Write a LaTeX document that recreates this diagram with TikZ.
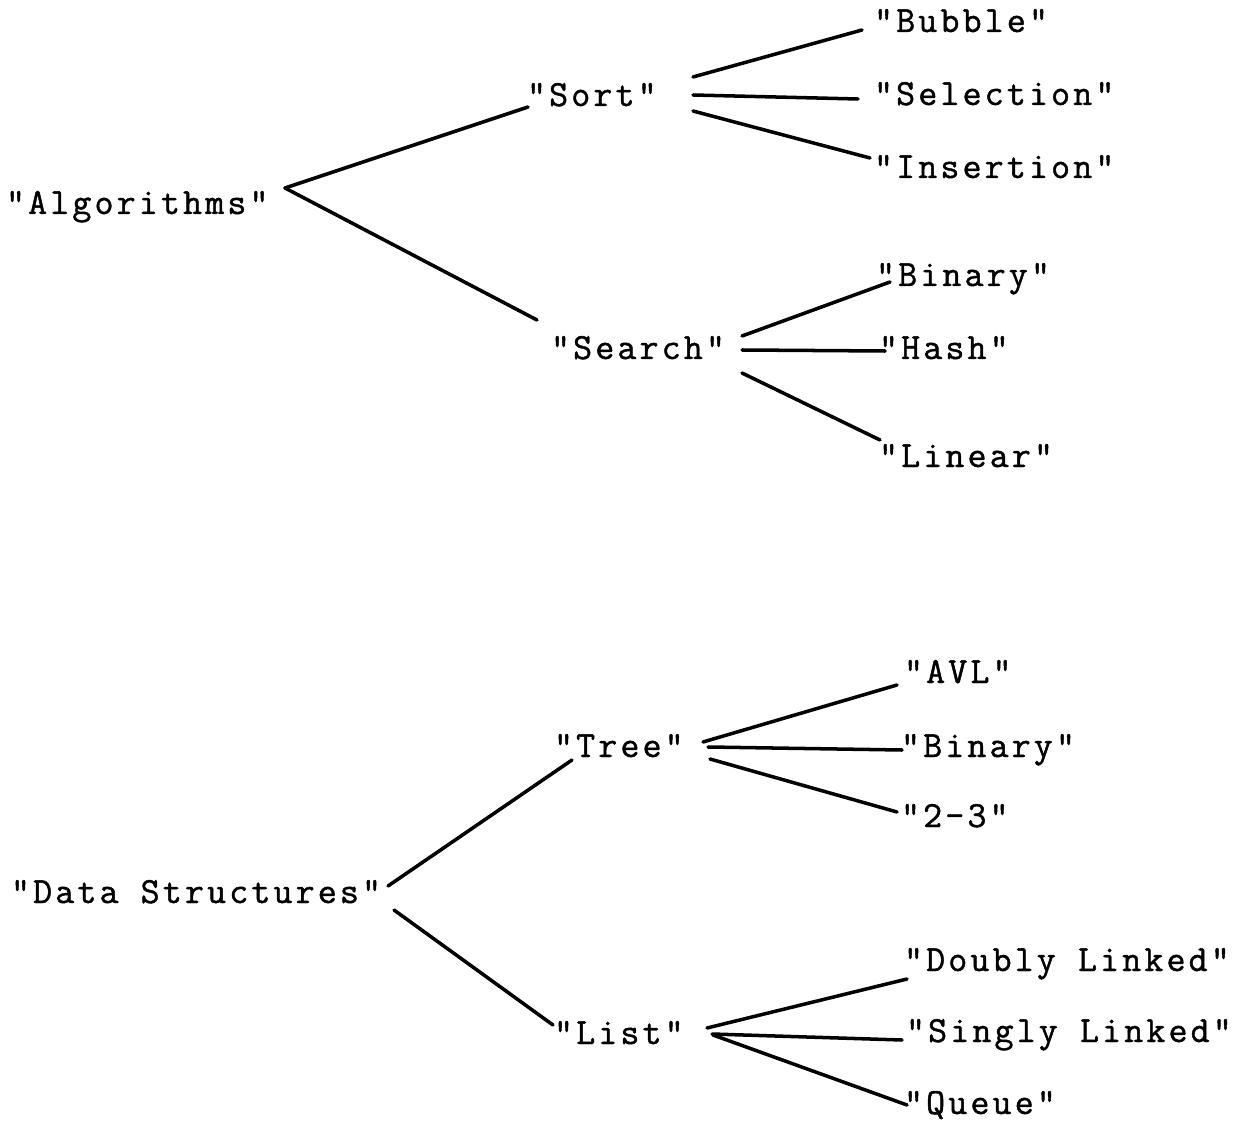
\documentclass[tikz,border=0pt]{standalone}
\usepackage{fontspec}
\newfontfamily\typewriter{Latin Modern Mono}[LetterSpace=8.5, FakeBold=1.2]
\usetikzlibrary{calc}

\tikzset{
  label/.style={anchor=base west, inner sep=0pt, outer sep=0pt,
    font=\typewriter\fontsize{21}{25}\selectfont},
  branch/.style={line width=2pt, line cap=round},
}

\begin{document}
\begin{tikzpicture}[x=0.02cm, y=-0.02cm]
  \useasboundingbox (0,0) rectangle (1250,1121);

  % --- Algorithms subtree ---
  \node[label] (alg)    at (6,214)   {"Algorithms"};
  \node[label] (sort)   at (527,106) {"Sort"};
  \node[label] (bubble) at (874,32)  {"Bubble"};
  \node[label] (sel)    at (874,105) {"Selection"};
  \node[label] (ins)    at (874,178) {"Insertion"};
  \node[label] (search) at (551,359) {"Search"};
  \node[label] (bin)    at (876,286) {"Binary"};
  \node[label] (hash)   at (879,359) {"Hash"};
  \node[label] (lin)    at (879,467) {"Linear"};

  % --- Data Structures subtree ---
  \node[label] (ds)     at (11,903)   {"Data Structures"};
  \node[label] (tree)   at (554,757)  {"Tree"};
  \node[label] (avl)    at (904,683)  {"AVL"};
  \node[label] (tbin)   at (901,757)  {"Binary"};
  \node[label] (two)    at (901,827)  {"2-3"};
  \node[label] (list)   at (554,1044) {"List"};
  \node[label] (dbl)    at (904,971)  {"Doubly Linked"};
  \node[label] (sgl)    at (906,1042) {"Singly Linked"};
  \node[label] (queue)  at (904,1114) {"Queue"};

  % --- branches ---
  \draw[branch] ($(alg.base west)+(279,-26)$) -- ($(sort.base west)+(1,1)$);
  \draw[branch] ($(alg.base west)+(279,-26)$) -- ($(search.base west)+(-14,-39)$);

  \draw[branch] ($(sort.base west)+(166,-29)$) -- ($(bubble.base west)+(-12,-2)$);
  \draw[branch] ($(sort.base west)+(166,-11)$) -- ($(sel.base west)+(-16,-6)$);
  \draw[branch] ($(sort.base west)+(166,5)$)   -- ($(ins.base west)+(-4,-20)$);

  \draw[branch] ($(search.base west)+(191,-23)$) -- ($(bin.base west)+(14,-4)$);
  \draw[branch] ($(search.base west)+(191,-9)$)  -- ($(hash.base west)+(6,-8)$);
  \draw[branch] ($(search.base west)+(191,14)$)  -- ($(lin.base west)+(1,-27)$);

  \draw[branch] ($(ds.base west)+(377,-17)$) -- ($(tree.base west)+(18,3)$);
  \draw[branch] ($(ds.base west)+(383,7)$)   -- ($(list.base west)+(-1,-19)$);

  \draw[branch] ($(tree.base west)+(149,-15)$) -- ($(avl.base west)+(-7,2)$);
  \draw[branch] ($(tree.base west)+(154,-10)$) -- ($(tbin.base west)+(1,-7)$);
  \draw[branch] ($(tree.base west)+(156,2)$)   -- ($(two.base west)+(-4,-15)$);

  \draw[branch] ($(list.base west)+(153,-16)$) -- ($(dbl.base west)+(3,8)$);
  \draw[branch] ($(list.base west)+(158,-10)$) -- ($(sgl.base west)+(-4,-2)$);
  \draw[branch] ($(list.base west)+(159,-9)$)  -- ($(queue.base west)+(3,-9)$);
\end{tikzpicture}
\end{document}
